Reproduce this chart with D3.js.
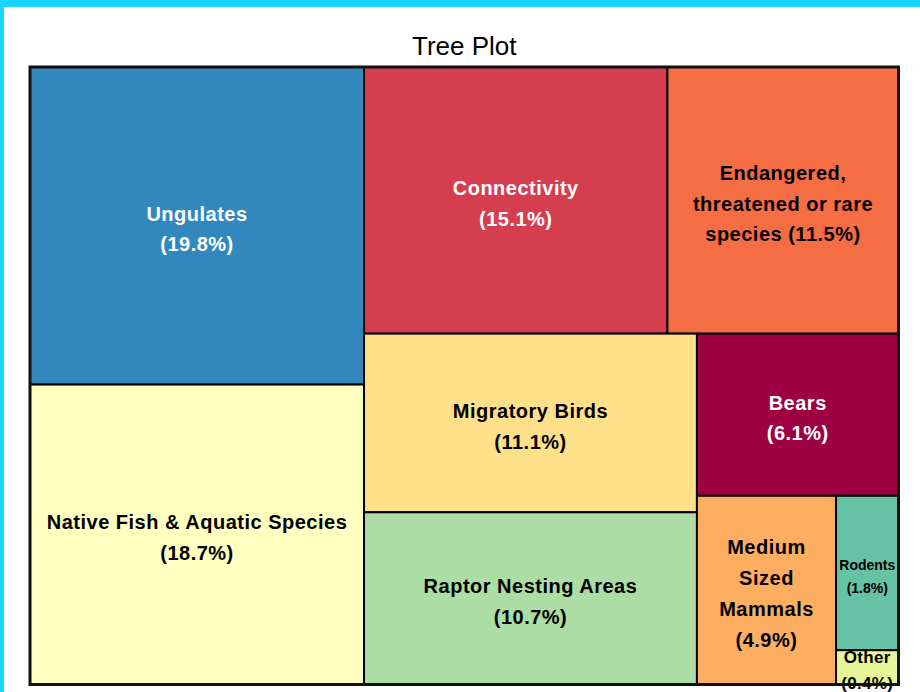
<!DOCTYPE html>
<html>
<head>
<meta charset="utf-8">
<script src="https://cdn.jsdelivr.net/npm/d3@7"></script>
<style>
  html, body { margin: 0; padding: 0; background: #fff; }
  svg { display: block; font-family: "Liberation Sans", Arial, sans-serif; }
</style>
</head>
<body>
<svg id="chart"></svg>
<script>
// shares of the total, in percent
const categories = ["Ungulates", "Native Fish & Aquatic Species", "Connectivity",
  "Endangered, threatened or rare species", "Migratory Birds", "Raptor Nesting Areas",
  "Bears", "Medium Sized Mammals", "Rodents", "Other"];
const values = [19.8, 18.7, 15.1, 11.5, 11.1, 10.7, 6.1, 4.9, 1.8, 0.4];
// how each label breaks into lines ("|" = line break)
const labels = ["Ungulates", "Native Fish & Aquatic Species", "Connectivity",
  "Endangered,|threatened or rare|species", "Migratory Birds", "Raptor Nesting Areas",
  "Bears", "Medium|Sized|Mammals", "Rodents", "Other"];
const colors = ["#3288bd", "#ffffbf", "#d53e4f", "#f46d43", "#fee08b", "#abdda4",
  "#9e0142", "#fdae61", "#66c2a5", "#e6f598"];

const width = 920, height = 692;
const margin = { top: 67, right: 21.5, bottom: 7.5, left: 30 };
const innerW = width - margin.left - margin.right;
const innerH = height - margin.top - margin.bottom;

const darkText = new Set(["Ungulates", "Connectivity", "Bears"]);

const svg = d3.select("#chart").attr("width", width).attr("height", height);

// frame of the page
svg.append("rect").attr("x", 0).attr("y", 0).attr("width", width).attr("height", 7).attr("fill", "#1ad5fd");
svg.append("rect").attr("x", 0).attr("y", 0).attr("width", 4).attr("height", height).attr("fill", "#1ad5fd");

svg.append("text")
  .attr("x", margin.left + innerW / 2)
  .attr("y", 55)
  .attr("text-anchor", "middle")
  .attr("font-size", 26)
  .attr("fill", "#000")
  .text("Tree Plot");

const root = d3.hierarchy({
  children: categories.map((c, i) => ({ name: c, value: values[i], label: labels[i], color: colors[i] }))
})
  .sum(d => d.value || 0)
  .sort((a, b) => b.value - a.value);

d3.treemap()
  .tile(d3.treemapSquarify.ratio(1))
  .size([innerW, innerH])
  .round(false)(root);

const g = svg.append("g").attr("transform", `translate(${margin.left},${margin.top})`);

const cell = g.selectAll("g.cell")
  .data(root.leaves())
  .join("g")
  .attr("class", "cell");

cell.append("rect")
  .attr("x", d => d.x0)
  .attr("y", d => d.y0)
  .attr("width", d => d.x1 - d.x0)
  .attr("height", d => d.y1 - d.y0)
  .attr("fill", d => d.data.color)
  .attr("stroke", "#000")
  .attr("stroke-width", 2);

// outer frame
g.append("rect")
  .attr("x", 0).attr("y", 0)
  .attr("width", innerW).attr("height", innerH)
  .attr("fill", "none")
  .attr("stroke", "#111")
  .attr("stroke-width", 3);

function labelStyle(name) {
  if (name === "Rodents") return { size: 14, weight: "bold", lh: 23, ls: 0 };
  if (name === "Other") return { size: 17, weight: "bold", lh: 26, ls: 0.3 };
  return { size: 20, weight: "bold", lh: 30.8, ls: 0.5 };
}

cell.each(function(d) {
  const st = labelStyle(d.data.name);
  const lines = d.data.label.split("|");
  const pct = `(${d.data.value.toFixed(1)}%)`;
  if (lines.length === 3 && d.data.name.startsWith("Endangered")) lines[2] += " " + pct;
  else lines.push(pct);
  const cx = (d.x0 + d.x1) / 2;
  const cy = (d.y0 + d.y1) / 2 + 3;
  const n = lines.length;
  d3.select(this).append("text")
    .attr("text-anchor", "middle")
    .attr("font-size", st.size)
    .attr("font-weight", st.weight)
    .attr("letter-spacing", st.ls)
    .attr("fill", darkText.has(d.data.name) ? "#fff" : "#000")
    .selectAll("tspan")
    .data(lines)
    .join("tspan")
    .attr("x", cx)
    .attr("y", (t, i) => cy + (i - (n - 1) / 2) * st.lh + st.size * 0.36)
    .text(t => t);
});
</script>
</body>
</html>
